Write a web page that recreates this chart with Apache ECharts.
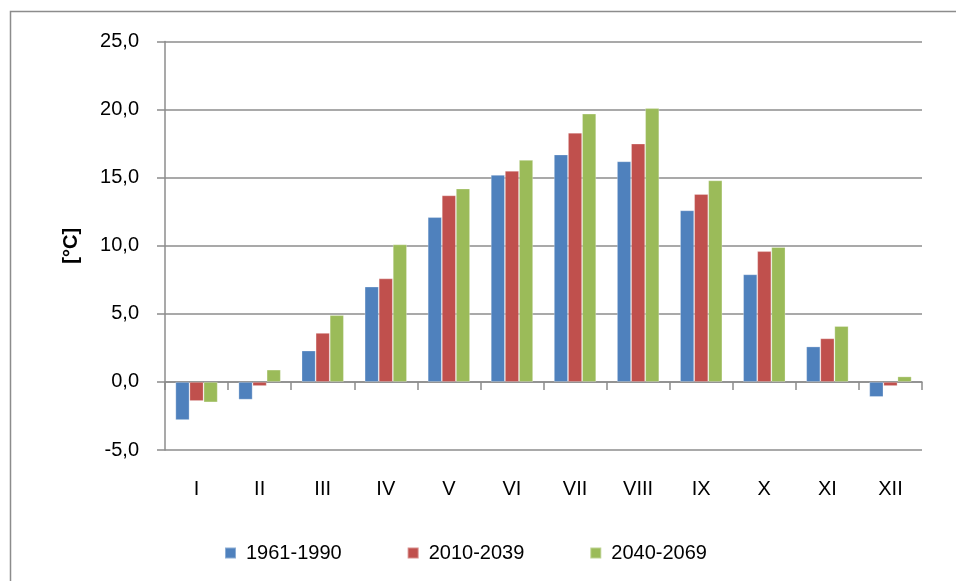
<!DOCTYPE html>
<html>
<head>
<meta charset="utf-8">
<script src="https://cdn.jsdelivr.net/npm/echarts@6/dist/echarts.min.js"></script>
<style>
html,body{margin:0;padding:0;background:#fff;}
#c{width:956px;height:581px;}
</style>
</head>
<body>
<div id="c"></div>
<script>
var months = ['I','II','III','IV','V','VI','VII','VIII','IX','X','XI','XII'];
var seriesNames = ['1961-1990','2010-2039','2040-2069'];
var s1961 = [-2.8, -1.3, 2.3, 7.0, 12.1, 15.2, 16.7, 16.2, 12.6, 7.9, 2.6, -1.1];
var s2010 = [-1.4, -0.3, 3.6, 7.6, 13.7, 15.5, 18.3, 17.5, 13.8, 9.6, 3.2, -0.3];
var s2040 = [-1.5, 0.9, 4.9, 10.1, 14.2, 16.3, 19.7, 20.1, 14.8, 9.9, 4.1, 0.4];
var colors = ['#4F81BD','#C0504D','#9BBB59'];
var font = 'Liberation Sans, Arial, sans-serif';
var gridColor = '#8c8c8c';

var chart = echarts.init(document.getElementById('c'), null, {renderer:'canvas'});
function mk(name, data, i){
  return {
    name: name, type: 'bar', data: data,
    barGap: '0%', barCategoryGap: '33%',
    itemStyle: {color: colors[i], borderColor: 'rgba(255,255,255,0.35)', borderWidth: 0.8},
    emphasis: {disabled: true}
  };
}
chart.setOption({
  animation: false,
  backgroundColor: '#fff',
  textStyle: {fontFamily: font},
  graphic: [{
    type: 'polyline',
    shape: {points: [[10.5,581],[10.5,11.5],[956,11.5]]},
    style: {stroke: '#8c8c8c', lineWidth: 1.5, fill: null}
  }],
  grid: {left: 165, right: 34, top: 41.5, bottom: 131, containLabel: false},
  legend: {
    left: 219, top: 538,
    itemWidth: 11, itemHeight: 11, itemGap: 65,
    icon: 'rect',
    textStyle: {fontFamily: font, fontSize: 20, color: '#000', padding: [0,0,0,5]},
    data: seriesNames
  },
  xAxis: {
    type: 'category', data: months,
    axisLine: {onZero: true, lineStyle: {color: gridColor, width: 1.5}},
    axisTick: {show: true, inside: false, length: 8, lineStyle: {color: gridColor, width: 1.5}},
    axisLabel: {margin: 29, fontSize: 20, color: '#000', fontFamily: font, interval: 0},
    splitLine: {show: false}
  },
  yAxis: {
    type: 'value', min: -5, max: 25, interval: 5,
    name: '[°C]', nameLocation: 'middle', nameGap: 84, nameRotate: 90,
    nameTextStyle: {fontSize: 20, fontWeight: 'bold', color: '#000', fontFamily: font},
    axisLine: {show: true, lineStyle: {color: gridColor, width: 1.5}},
    axisTick: {show: true, inside: false, length: 8, lineStyle: {color: gridColor, width: 1.5}},
    axisLabel: {margin: 26, fontSize: 20, color: '#000', fontFamily: font,
      formatter: function(v){ return v.toFixed(1).replace('.', ','); }},
    splitLine: {show: true, lineStyle: {color: gridColor, width: 1.5}}
  },
  series: [mk(seriesNames[0], s1961, 0), mk(seriesNames[1], s2010, 1), mk(seriesNames[2], s2040, 2)]
});
</script>
</body>
</html>
